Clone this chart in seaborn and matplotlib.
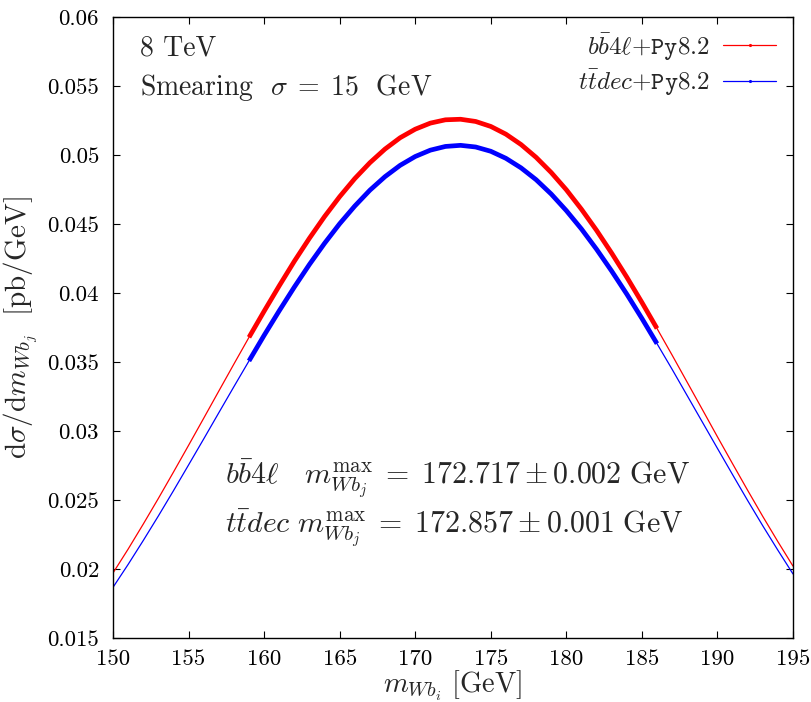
import numpy as np
import pandas as pd
import matplotlib
matplotlib.use("Agg")
import matplotlib.pyplot as plt
from matplotlib.lines import Line2D
import seaborn as sns

# ---- data ----
mass = [150, 151, 152, 153, 154, 155, 156, 157, 158, 159, 160, 161, 162, 163, 164,
        165, 166, 167, 168, 169, 170, 171, 172, 173, 174, 175, 176, 177, 178, 179,
        180, 181, 182, 183, 184, 185, 186, 187, 188, 189, 190, 191, 192, 193, 194, 195]
bb4l = [0.01971, 0.02144, 0.02325, 0.02511, 0.02702, 0.02896, 0.03092, 0.03289,
        0.03485, 0.03679, 0.03868, 0.04052, 0.04230, 0.04397, 0.04554, 0.04698,
        0.04829, 0.04944, 0.05043, 0.05125, 0.05187, 0.05231, 0.05255, 0.05259,
        0.05243, 0.05207, 0.05151, 0.05076, 0.04983, 0.04873, 0.04748, 0.04607,
        0.04454, 0.04289, 0.04115, 0.03932, 0.03743, 0.03550, 0.03353, 0.03156,
        0.02958, 0.02763, 0.02570, 0.02381, 0.02198, 0.02021]
ttdec = [0.01867, 0.02033, 0.02206, 0.02384, 0.02567, 0.02754, 0.02942, 0.03132,
         0.03321, 0.03508, 0.03693, 0.03871, 0.04043, 0.04207, 0.04360, 0.04502,
         0.04630, 0.04745, 0.04843, 0.04925, 0.04989, 0.05035, 0.05062, 0.05070,
         0.05058, 0.05027, 0.04976, 0.04907, 0.04821, 0.04717, 0.04597, 0.04464,
         0.04317, 0.04159, 0.03992, 0.03816, 0.03633, 0.03447, 0.03256, 0.03065,
         0.02874, 0.02684, 0.02496, 0.02313, 0.02136, 0.01964]
fit_range = [159, 186]
series_names = [r"$b\bar{b}4\ell$+$\mathtt{Py8.2}$", r"$t\bar{t}dec$+$\mathtt{Py8.2}$"]
series_colors = ["#ff0000", "#0000ff"]
x_ticks = [150, 155, 160, 165, 170, 175, 180, 185, 190, 195]
y_ticks = [0.015, 0.02, 0.025, 0.03, 0.035, 0.04, 0.045, 0.05, 0.055, 0.06]
y_tick_labels = ["0.015", "0.02", "0.025", "0.03", "0.035", "0.04", "0.045", "0.05", "0.055", "0.06"]
results = [r"$b\bar{b}4\ell\ \ \ m_{Wb_j}^{\mathrm{max}} \;=\; 172.717 \pm 0.002\ \mathrm{GeV}$",
           r"$t\bar{t}dec\ m_{Wb_j}^{\mathrm{max}} \;=\; 172.857 \pm 0.001\ \mathrm{GeV}$"]

sns.set_theme(style="ticks")
plt.rcParams["font.family"] = ["cmr10", "DejaVu Serif"]
plt.rcParams["mathtext.fontset"] = "cm"
plt.rcParams["axes.formatter.use_mathtext"] = True
plt.rcParams["axes.unicode_minus"] = False

df = pd.DataFrame({"m": mass * 2,
                   "v": bb4l + ttdec,
                   "s": ["bb4l"] * len(mass) + ["ttdec"] * len(mass)})
fit = df[(df["m"] >= fit_range[0]) & (df["m"] <= fit_range[1])]

fig = plt.figure(figsize=(8.11, 7.02), dpi=100)
ax = fig.add_axes([113 / 811, 1 - 638 / 702, 680 / 811, 621 / 702])

pal = {"bb4l": series_colors[0], "ttdec": series_colors[1]}
sns.lineplot(data=df, x="m", y="v", hue="s", palette=pal, estimator=None,
             sort=False, linewidth=0.9, legend=False, ax=ax)
sns.lineplot(data=fit, x="m", y="v", hue="s", palette=pal, estimator=None,
             sort=False, linewidth=3.4, legend=False, ax=ax,
             solid_joinstyle="round", solid_capstyle="butt")

ax.set_xlim(150, 195)
ax.set_ylim(0.015, 0.06)
ax.set_xticks(x_ticks)
ax.set_xticklabels([str(t) for t in x_ticks])
ax.set_yticks(y_ticks)
ax.set_yticklabels(y_tick_labels)
ax.tick_params(direction="in", length=5, width=0.8, top=True, right=True,
               labelsize=16.5, colors="black")
ax.tick_params(axis="x", pad=8)
ax.tick_params(axis="y", pad=10)
for sp in ax.spines.values():
    sp.set_linewidth(1.0)
    sp.set_color("black")
    sp.set_visible(True)

ax.set_xlabel(r"$m_{Wb_i}\ [\mathrm{GeV}]$", fontsize=20.5, labelpad=0)
ax.set_ylabel(r"$\mathrm{d}\sigma/\mathrm{d}m_{Wb_j}\ \ [\mathrm{pb/GeV}]$", fontsize=21, labelpad=5)

ax.text(0.04, 0.95, "8 TeV", transform=ax.transAxes, fontsize=20, va="center", ha="left")
ax.text(0.04, 0.886, r"Smearing $\ \sigma \;=\; 15\ $ GeV", transform=ax.transAxes,
        fontsize=20, va="center", ha="left")
ax.text(0.165, 0.2576, results[0], transform=ax.transAxes, fontsize=21.5, va="center", ha="left")
ax.text(0.165, 0.1771, results[1], transform=ax.transAxes, fontsize=21.5, va="center", ha="left")

handles = [Line2D([0], [0], color=c, lw=0.9, marker=".", markersize=2.5) for c in series_colors]
leg = ax.legend(handles, series_names, loc="upper right", frameon=False, markerfirst=False,
                fontsize=18, handlelength=2.1, handletextpad=0.55, labelspacing=0.22,
                bbox_to_anchor=(0.995, 1.0), borderaxespad=0.15)
for t in leg.get_texts():
    t.set_ha("right")

fig.savefig("out.png", dpi=100)
